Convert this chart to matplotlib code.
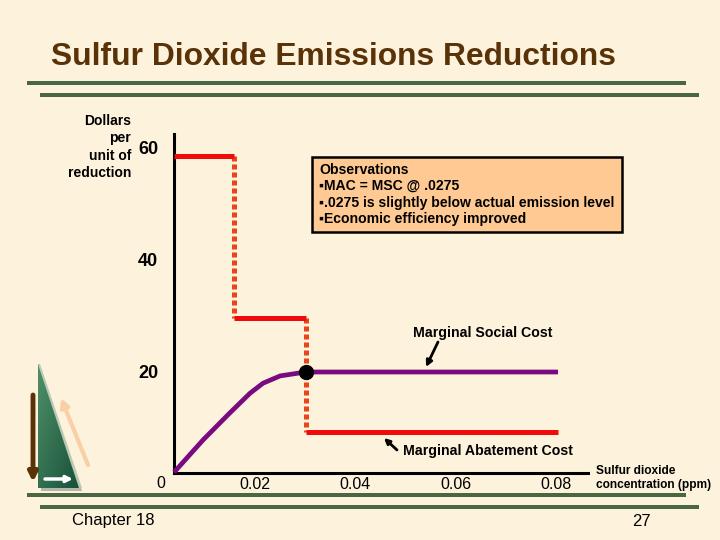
import matplotlib
matplotlib.use('Agg')
import matplotlib.pyplot as plt
import numpy as np
from matplotlib.patches import Polygon, Rectangle

plt.rcParams['font.family'] = ['Liberation Sans', 'DejaVu Sans']

# values
mac_x = [0.0040, 0.0159, 0.0159, 0.0302, 0.0302, 0.0804]
mac_y = [58.6, 58.6, 29.6, 29.6, 9.3, 9.3]
msc_x = [0.0040, 0.0098, 0.0151, 0.0191, 0.0217, 0.0251, 0.0302, 0.0804]
msc_y = [2.1, 7.9, 12.7, 16.2, 18.0, 19.3, 20.0, 20.0]
eq_x, eq_y = 0.0302, 20.0
x_ticks = [0.02, 0.04, 0.06, 0.08]
x_labels = ['0.02', '0.04', '0.06', '0.08']
y_ticks = [60, 40, 20]
y_labels = ['60', '40', '20']
obs_lines = ['Observations', '▪MAC = MSC @ .0275',
             '▪.0275 is slightly below actual emission level',
             '▪Economic efficiency improved']

BG = '#FDF2DC'
GREEN = '#4A6741'
W, H = 720, 540

fig = plt.figure(figsize=(7.2, 5.4), dpi=100, facecolor=BG)

# full page layer in pixel coordinates for the slide furniture
page = fig.add_axes([0, 0, 1, 1])
page.set_xlim(0, W)
page.set_ylim(H, 0)
page.axis('off')

page.text(51, 57, 'Sulfur Dioxide Emissions Reductions', fontsize=22.9, fontweight='bold',
          color='#5A3208', va='center', ha='left')
for y, x0, x1 in [(83, 27, 686), (95, 40, 699), (495, 27, 686), (507, 40, 699)]:
    page.add_patch(Rectangle((x0, y - 2), x1 - x0, 4, color=GREEN, lw=0))

page.text(113, 520, 'Chapter 18', fontsize=12, ha='center', va='center', color='black')
page.text(641, 521, '27', fontsize=12, ha='center', va='center', color='black')

# triangle logo
page.add_patch(Polygon([[41, 491], [82, 491], [80, 484], [41, 484]], color='#B5B5AD', lw=0))
page.add_patch(Polygon([[38, 364], [40, 364], [82, 488], [78, 488]], color='#B9C9B4', lw=0))
grad = np.linspace(0, 1, 64).reshape(1, -1) + np.linspace(0, 1, 64).reshape(-1, 1)
tri = Polygon([[38, 364], [38, 488], [79, 488]], transform=page.transData, lw=0, fc='none')
page.add_patch(tri)
cmap = matplotlib.colors.LinearSegmentedColormap.from_list('g', ['#4F9068', '#17503A'])
im = page.imshow(grad, extent=(38, 80, 488, 364), cmap=cmap, aspect='auto', zorder=1)
im.set_clip_path(tri)
page.set_xlim(0, W)
page.set_ylim(H, 0)


def arrow(start, end, color, lw=2.5, scale=12):
    page.annotate('', xy=end, xytext=start, zorder=6,
                  arrowprops=dict(arrowstyle='-|>', color=color, lw=lw, mutation_scale=scale,
                                  shrinkA=0, shrinkB=0))


arrow((33, 395), (33, 482), '#5A3208', 3.5, 13)
arrow((88, 465), (61, 398), '#F8CFA6', 3, 12)
arrow((45, 479), (73, 479), 'white', 2.5, 9)

# chart
ax = fig.add_axes([174 / W, 1 - 473 / H, (588 - 174) / W, (473 - 134) / H])
ax.patch.set_alpha(0)
ax.set_xlim((174 - 154) / 5025, (588 - 154) / 5025)
ax.set_ylim((484 - 473) / 5.6, (484 - 134) / 5.6)
for s in ['top', 'right']:
    ax.spines[s].set_visible(False)
for s in ['left', 'bottom']:
    ax.spines[s].set_linewidth(2.2)

ax.plot(mac_x[:2], mac_y[:2], color='#F00A0A', lw=3.6, solid_capstyle='butt', clip_on=False, zorder=3)
ax.plot(mac_x[2:4], mac_y[2:4], color='#F00A0A', lw=3.6, solid_capstyle='butt', zorder=3)
ax.plot(mac_x[4:], mac_y[4:], color='#F00A0A', lw=3.6, solid_capstyle='butt', zorder=3)
ax.plot(mac_x[1:3], mac_y[1:3], color='#E8451C', lw=3.6, ls=(0, (1.0, 0.6)), zorder=2)
ax.plot(mac_x[3:5], mac_y[3:5], color='#E8451C', lw=3.6, ls=(0, (1.0, 0.6)), zorder=2)
ax.plot(msc_x, msc_y, color='#7A0A80', lw=3.4, solid_capstyle='butt', solid_joinstyle='round',
        clip_on=False, zorder=4)
ax.plot([eq_x], [eq_y], 'o', color='black', ms=10, zorder=5)

ax.set_xticks(x_ticks, x_labels)
ax.set_yticks(y_ticks, y_labels)
ax.tick_params(axis='x', length=0, pad=3, labelsize=11.5)
ax.tick_params(axis='y', length=0, pad=11.5, labelsize=13)
for t in ax.get_yticklabels():
    t.set_fontweight('bold')
ax.text(161, 484, '0', fontsize=11.5, ha='center', va='center', transform=page.transData)

page.text(131, 147, 'Dollars\nper\nunit of\nreduction', fontsize=10, fontweight='bold', ha='right',
          va='center', linespacing=1.29)
page.text(596, 478, 'Sulfur dioxide\nconcentration (ppm)', fontsize=8.6, fontweight='bold', ha='left',
          va='center', linespacing=1.2)
page.text(483, 333.5, 'Marginal Social Cost', fontsize=10.2, fontweight='bold', ha='center', va='center')
page.text(488, 450.5, 'Marginal Abatement Cost', fontsize=10.2, fontweight='bold', ha='center', va='center')
arrow((438, 342), (426, 367), 'black', 2, 9)
arrow((397, 450), (384, 438), 'black', 2, 8)

page.add_patch(Rectangle((312, 157), 310, 75, fc='#FFC993', ec='black', lw=1.8, zorder=3))
for i, line in enumerate(obs_lines):
    page.text(319, 169.5 + i * 16.6, line, fontsize=10.1, fontweight='bold', ha='left', va='center', zorder=4)

fig.savefig('out.png', dpi=100, facecolor=BG)
